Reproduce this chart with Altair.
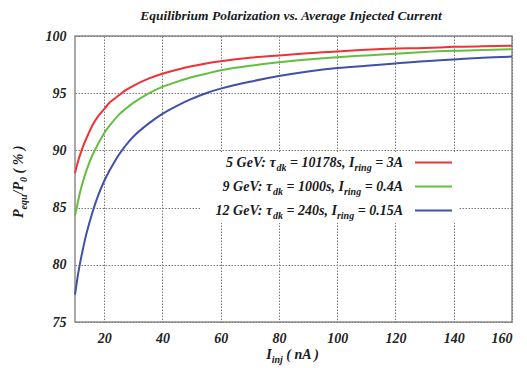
import altair as alt
import pandas as pd

# ---- data ----
x_vals = [10, 11, 12, 13, 14, 16, 18, 20, 22, 25, 27, 30, 35, 40, 45, 50, 55, 60, 70, 80, 90, 100, 110, 120, 130, 140, 150, 160]
red_vals = [88.0, 89.0, 89.8, 90.5, 91.1, 92.2, 93.0, 93.6, 94.2, 94.8, 95.2, 95.65, 96.25, 96.7, 97.05, 97.35, 97.6, 97.8, 98.1, 98.3, 98.5, 98.65, 98.8, 98.9, 98.95, 99.05, 99.1, 99.15]
green_vals = [84.3, 85.5, 86.6, 87.5, 88.3, 89.6, 90.6, 91.5, 92.2, 93.1, 93.55, 94.15, 94.95, 95.55, 96.0, 96.4, 96.7, 97.0, 97.4, 97.7, 97.95, 98.15, 98.3, 98.45, 98.6, 98.7, 98.78, 98.85]
blue_vals = [77.4, 79.1, 80.5, 81.7, 82.8, 84.6, 86.1, 87.3, 88.3, 89.6, 90.3, 91.2, 92.3, 93.2, 93.9, 94.5, 95.0, 95.4, 96.0, 96.5, 96.9, 97.2, 97.4, 97.6, 97.8, 97.95, 98.1, 98.2]
series_names = ["5 GeV", "9 GeV", "12 GeV"]
series_colors = ["#ef3236", "#63bf3f", "#4150a8"]
legend_parts = [
    [("5 GeV: τ", 0), ("dk", 1), (" = 10178s, I", 0), ("ring", 1), (" = 3A", 0)],
    [("9 GeV: τ", 0), ("dk", 1), (" = 1000s, I", 0), ("ring", 1), (" = 0.4A", 0)],
    [("12 GeV: τ", 0), ("dk", 1), (" = 240s, I", 0), ("ring", 1), (" = 0.15A", 0)],
]
title_text = "Equilibrium Polarization vs. Average Injected Current"
y_title_parts = [("P", 0), ("equ", 1), ("/P", 0), ("0", 1), (" ( % )", 0)]
x_title_parts = [("I", 0), ("inj", 1), (" ( nA )", 0)]
x_ticks = [20, 40, 60, 80, 100, 120, 140, 160]
y_ticks = [75, 80, 85, 90, 95, 100]

# ---- layout ----
W, H = 437, 286
FONT = "Liberation Serif"
MAIN_SIZE, SUB_SIZE = 14, 10

# Times bold-italic advance widths (per 1000 em) for offset computation
_w = {" ": 250, ":": 333, "=": 570, ",": 250, ".": 250, "G": 722, "e": 444, "V": 667,
      "s": 389, "I": 389, "A": 667, "d": 500, "k": 500, "r": 389, "i": 278, "n": 556,
      "g": 500, "τ": 440, "P": 611, "q": 500, "u": 556, "/": 278, "(": 333, ")": 333,
      "%": 833, "j": 278}


def text_width(s, size):
    return sum(_w.get(c, 500) for c in s) * size / 1000.0


def seg_size(seg):
    return SUB_SIZE if seg[1] else MAIN_SIZE


def seg_width(seg):
    return text_width(seg[0], seg_size(seg))


def place(seg, pos):
    """SVG drops leading spaces: skip them by moving the anchor instead."""
    t = seg[0]
    stripped = t.lstrip(" ")
    lead = text_width(t[: len(t) - len(stripped)], seg_size(seg))
    return stripped, pos + lead


df = pd.DataFrame({
    "x": x_vals * 3,
    "y": red_vals + green_vals + blue_vals,
    "series": [series_names[0]] * len(x_vals) + [series_names[1]] * len(x_vals) + [series_names[2]] * len(x_vals),
})

color_scale = alt.Scale(domain=series_names, range=series_colors)

xscale = alt.Scale(domain=[10, 160], nice=False, zero=False)
yscale = alt.Scale(domain=[75, 100], nice=False, zero=False)

axis_common = dict(
    labelFont=FONT, labelFontSize=MAIN_SIZE, labelFontStyle="italic", labelFontWeight="bold",
    labelColor="#222222", grid=True, gridColor="#7a7a7a", gridDash=[1.5, 1.5], gridWidth=1,
    domain=False, ticks=False, title=None, labelPadding=9,
)

lines = alt.Chart(df).mark_line(strokeWidth=2, interpolate="natural").encode(
    x=alt.X("x:Q", scale=xscale, axis=alt.Axis(values=x_ticks, **axis_common)),
    y=alt.Y("y:Q", scale=yscale, axis=alt.Axis(values=y_ticks, **axis_common)),
    color=alt.Color("series:N", scale=color_scale, legend=None),
)

layers = [lines]

# legend background box
box = alt.Chart(pd.DataFrame({"a": [0]})).mark_rect(color="white").encode(
    x=alt.value(126), x2=alt.value(383), y=alt.value(116), y2=alt.value(187)
)
layers.insert(0, box)

# custom legend
text_right = 328
row_base = [131, 155, 179]
rows_main, rows_sub, samples = [], [], []
for i, parts in enumerate(legend_parts):
    total = sum(seg_width(p) for p in parts)
    cx = text_right - total
    for p in parts:
        t, px = place(p, cx)
        if p[1]:
            rows_sub.append({"t": t, "px": px, "py": row_base[i] + 4})
        else:
            rows_main.append({"t": t, "px": px, "py": row_base[i]})
        cx += seg_width(p)
    samples.append({"series": series_names[i], "x1": 340, "x2": 377, "yy": row_base[i] - 4.5})


def text_layer(rows, size, angle=0):
    return alt.Chart(pd.DataFrame(rows)).mark_text(
        font=FONT, fontSize=size, fontStyle="italic", fontWeight="bold", color="#1a1a1a",
        align="left", baseline="alphabetic", angle=angle,
    ).encode(
        x=alt.X("px:Q", scale=None), y=alt.Y("py:Q", scale=None), text="t:N"
    )


layers.append(text_layer(rows_main, MAIN_SIZE))
layers.append(text_layer(rows_sub, SUB_SIZE))
layers.append(
    alt.Chart(pd.DataFrame(samples)).mark_rule(strokeWidth=2).encode(
        x=alt.X("x1:Q", scale=None), x2="x2:Q", y=alt.Y("yy:Q", scale=None),
        color=alt.Color("series:N", scale=color_scale, legend=None),
    )
)

# x axis title
xt_total = sum(seg_width(p) for p in x_title_parts)
cx = 218 - xt_total / 2
xm, xs = [], []
for p in x_title_parts:
    t, px = place(p, cx)
    if p[1]:
        xs.append({"t": t, "px": px, "py": 327})
    else:
        xm.append({"t": t, "px": px, "py": 323})
    cx += seg_width(p)
layers.append(text_layer(xm, MAIN_SIZE))
layers.append(text_layer(xs, SUB_SIZE))

# y axis title (rotated, reads upward)
cy = 182
ym, ys = [], []
for p in y_title_parts:
    t, off = place(p, 0)
    if p[1]:
        ys.append({"t": t, "px": -48, "py": cy - off})
    else:
        ym.append({"t": t, "px": -52, "py": cy - off})
    cy -= seg_width(p)
layers.append(text_layer(ym, MAIN_SIZE, angle=270))
layers.append(text_layer(ys, SUB_SIZE, angle=270))

# chart title
title = alt.Chart(pd.DataFrame({"t": [title_text]})).mark_text(
    font=FONT, fontSize=13.5, fontStyle="italic", fontWeight="bold", color="#1a1a1a",
    align="center", baseline="alphabetic",
).encode(x=alt.value(216), y=alt.value(-16), text="t:N")
layers.append(title)

chart = alt.layer(*layers).properties(
    width=W, height=H,
    autosize=alt.AutoSizeParams(type="none"),
    padding={"left": 67, "top": 28, "right": 7, "bottom": 44},
).configure(background="white").configure_view(stroke="#8c8c8c", strokeWidth=1.5)

chart.save("out.html", embed_options={"renderer": "svg", "actions": False})
